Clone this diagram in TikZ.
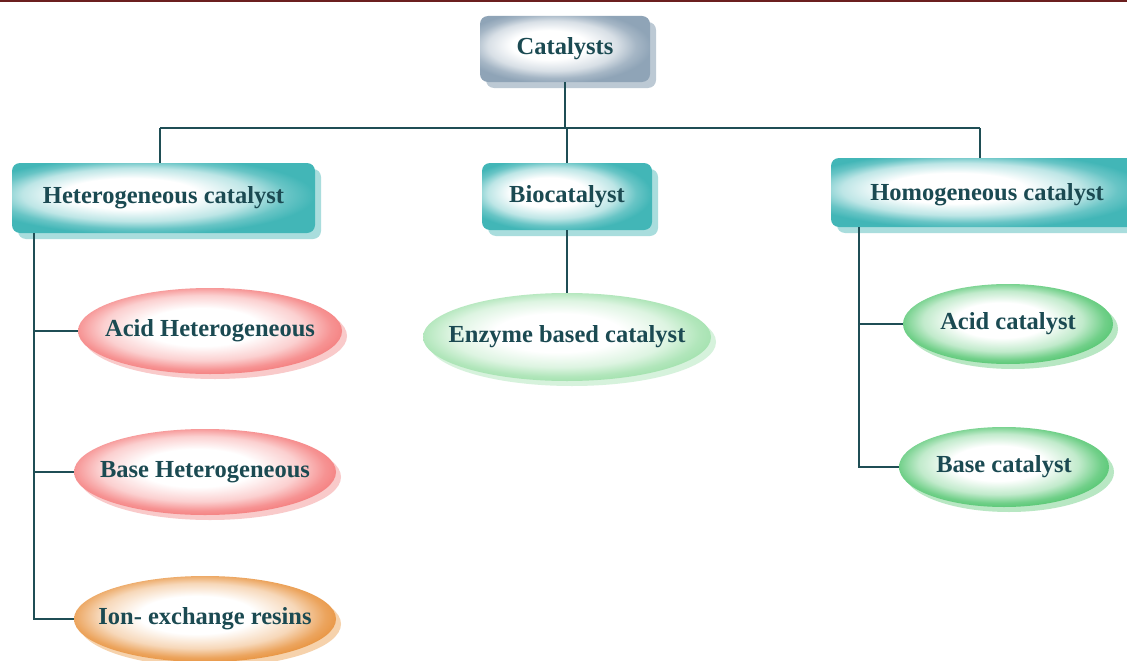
\documentclass[tikz,border=0pt]{standalone}
\usepackage{fontspec}
\setmainfont{Liberation Serif}
\usetikzlibrary{shadows,shapes.geometric}
\definecolor{ink}{HTML}{1B4A52}
\definecolor{wire}{HTML}{1F4E55}
\definecolor{topbar}{HTML}{6B1F1F}
\definecolor{tealedge}{HTML}{42B6B7}
\definecolor{tealshadow}{HTML}{A9DDDD}
\definecolor{grayedge}{HTML}{8FA4B7}
\definecolor{grayshadow}{HTML}{BCC9D4}
\definecolor{rededge}{HTML}{F47878}
\definecolor{redshadow}{HTML}{F9CACA}
\definecolor{orangeedge}{HTML}{E78E36}
\definecolor{orangeshadow}{HTML}{F6D2AC}
\definecolor{greenedge}{HTML}{4EC46C}
\definecolor{greenshadow}{HTML}{B8E7C3}
\definecolor{paleedge}{HTML}{9EE0AA}
\definecolor{paleshadow}{HTML}{D6F2DC}
% soft glow: white highlight fading out to the rim colour
\newcommand\declareglow[3]{%
  \pgfdeclareradialshading{#1}{#3}{%
    color(0bp)=(white); color(11bp)=(white); color(19bp)=(#2!35!white);
    color(24bp)=(#2!80!white); color(28bp)=(#2); color(50bp)=(#2)}}
\declareglow{glowteal}{tealedge}{\pgfpoint{-7bp}{4bp}}
\declareglow{glowgray}{grayedge}{\pgfpoint{-6bp}{4bp}}
\declareglow{glowred}{rededge}{\pgfpoint{-2bp}{3bp}}
\declareglow{gloworange}{orangeedge}{\pgfpoint{-2bp}{3bp}}
\declareglow{glowgreen}{greenedge}{\pgfpoint{-2bp}{3bp}}
\declareglow{glowpale}{paleedge}{\pgfpoint{-2bp}{3bp}}
\tikzset{
  label text/.style={font=\fontsize{24.5}{28}\selectfont\bfseries, text=ink},
  boxbase/.style={label text, rectangle, rounded corners=8pt, inner sep=0pt},
  tealbox/.style={boxbase, shading=glowteal,
    drop shadow={shadow xshift=6pt, shadow yshift=-6pt, fill=tealshadow, opacity=1}},
  graybox/.style={boxbase, shading=glowgray,
    drop shadow={shadow xshift=6pt, shadow yshift=-6pt, fill=grayshadow, opacity=1}},
  ovalbase/.style={label text, ellipse, inner sep=-40pt},
  redoval/.style={ovalbase, shading=glowred,
    drop shadow={shadow xshift=5pt, shadow yshift=-5pt, fill=redshadow, opacity=1}},
  orangeoval/.style={ovalbase, shading=gloworange,
    drop shadow={shadow xshift=5pt, shadow yshift=-5pt, fill=orangeshadow, opacity=1}},
  greenoval/.style={ovalbase, shading=glowgreen,
    drop shadow={shadow xshift=5pt, shadow yshift=-5pt, fill=greenshadow, opacity=1}},
  paleoval/.style={ovalbase, shading=glowpale,
    drop shadow={shadow xshift=5pt, shadow yshift=-5pt, fill=paleshadow, opacity=1}},
  link/.style={draw=wire, line width=1.8pt},
}
\begin{document}
\begin{tikzpicture}[x=1pt, y=-1pt]
\useasboundingbox (0,0) rectangle (1127,661);
\fill[white] (0,0) rectangle (1127,661);
\draw[topbar, line width=2.5pt] (0,1) -- (1127,1);

% root
\node[graybox, minimum width=170pt, minimum height=66pt] (cat) at (565,49) {Catalysts};

% second level
\node[tealbox, minimum width=303pt, minimum height=70pt] (het) at (163.5,198) {Heterogeneous catalyst};
\node[tealbox, minimum width=170pt, minimum height=67pt] (bio) at (567,196.5) {Biocatalyst};
\node[tealbox, minimum width=316pt, minimum height=69pt] (homo) at (989,192.5) {};
\node[label text] (homotext) at (987,195) {Homogeneous catalyst};

% leaves
\node[redoval, minimum width=264pt, minimum height=86pt] (acidh) at (210,331) {Acid Heterogeneous};
\node[redoval, minimum width=262pt, minimum height=86pt] (baseh) at (205,472) {Base Heterogeneous};
\node[orangeoval, minimum width=262pt, minimum height=86pt] (ion) at (205,619) {Ion- exchange resins};
\node[paleoval, minimum width=288pt, minimum height=88pt] (enz) at (567,337) {Enzyme based catalyst};
\node[greenoval, minimum width=210pt, minimum height=80pt] (acidc) at (1008,324) {Acid catalyst};
\node[greenoval, minimum width=210pt, minimum height=80pt] (basec) at (1004,467) {Base catalyst};

% tree wiring
\coordinate (bus) at (0,128);
\coordinate (hetspine) at (34,233);
\coordinate (homospine) at (859,227);
\coordinate (hetdrop) at (160,163);
\coordinate (homodrop) at (980,158);
\draw[link] (cat.south) -- (cat.south |- bus);
\draw[link] (hetdrop |- bus) -- (homodrop |- bus);
\draw[link] (hetdrop |- bus) -- (hetdrop);
\draw[link] (bio.north |- bus) -- (bio.north);
\draw[link] (homodrop |- bus) -- (homodrop);
\draw[link] (bio.south) -- (enz.north);
\draw[link] (hetspine) |- (ion.west);
\draw[link] (acidh.west) -- (acidh.west -| hetspine);
\draw[link] (baseh.west) -- (baseh.west -| hetspine);
\draw[link] (homospine) |- (basec.west);
\draw[link] (acidc.west) -- (acidc.west -| homospine);
\end{tikzpicture}
\end{document}
